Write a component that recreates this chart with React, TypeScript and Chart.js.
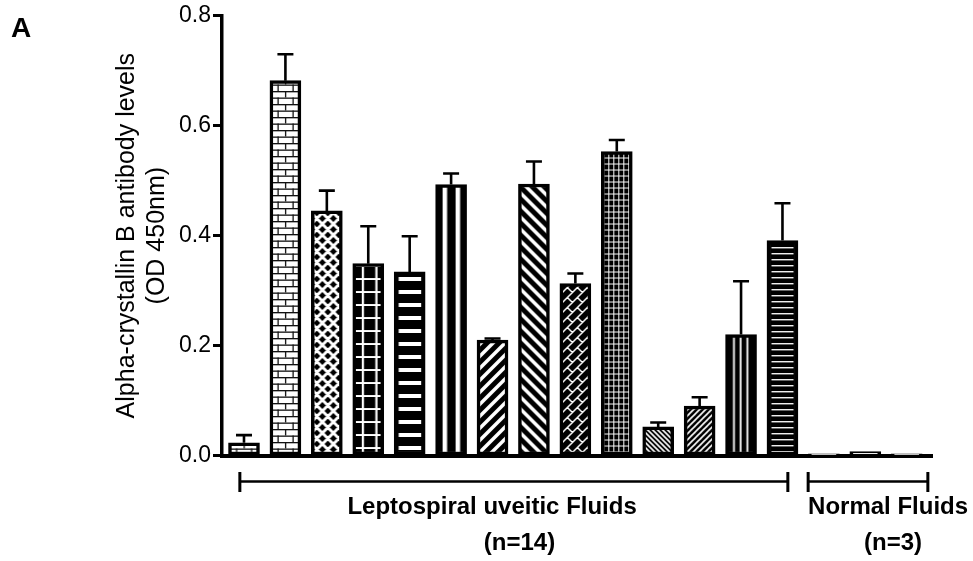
import { useEffect, useRef } from 'react';
import { Chart, registerables } from 'chart.js';
Chart.register(...registerables);

// ---------- data ----------
const categories = [
  'LU1', 'LU2', 'LU3', 'LU4', 'LU5', 'LU6', 'LU7', 'LU8', 'LU9', 'LU10', 'LU11', 'LU12', 'LU13', 'LU14',
  'N1', 'N2', 'N3',
];
const values = [0.023, 0.682, 0.445, 0.349, 0.334, 0.493, 0.21, 0.494, 0.313, 0.553, 0.052, 0.09, 0.22, 0.391, 0.003, 0.007, 0.003];
const errors = [0.014, 0.048, 0.037, 0.068, 0.065, 0.02, 0.003, 0.041, 0.018, 0.021, 0.008, 0.016, 0.097, 0.068, 0, 0, 0];
const yTicks = [0, 0.2, 0.4, 0.6, 0.8];
const yTitle = ['Alpha-crystallin B antibody levels', '(OD 450nm)'];
const groupNames = ['Leptospiral uveitic Fluids', 'Normal Fluids'];
const groupCounts = ['(n=14)', '(n=3)'];
const panelLabel = 'A';

// ---------- layout / style (category-unit positions) ----------
const GROUPS = [
  { from: -0.1, to: 13.13, nameAt: 5.99, countAt: 6.65 },
  { from: 13.62, to: 16.51, nameAt: 15.55, countAt: 15.67 },
];
const FONT = '"Liberation Sans", Arial, Helvetica, sans-serif';

type Draw = (g: CanvasRenderingContext2D, w: number, h: number) => void;

function makePattern(ctx: CanvasRenderingContext2D, w: number, h: number, bg: string, draw: Draw) {
  const c = document.createElement('canvas');
  c.width = w;
  c.height = h;
  const g = c.getContext('2d')!;
  g.fillStyle = bg;
  g.fillRect(0, 0, w, h);
  g.fillStyle = '#fff';
  g.strokeStyle = '#fff';
  draw(g, w, h);
  return ctx.createPattern(c, 'repeat')!;
}

function diag(dir: '/' | '\\', lw: number): Draw {
  return (g, w) => {
    g.lineWidth = lw;
    g.beginPath();
    for (let k = -2; k <= 2; k++) {
      if (dir === '\\') {
        g.moveTo(k * w - w, -w);
        g.lineTo(k * w + 2 * w, 2 * w);
      } else {
        g.moveTo(k * w - w, 2 * w);
        g.lineTo(k * w + 2 * w, -w);
      }
    }
    g.stroke();
  };
}

function buildPatterns(ctx: CanvasRenderingContext2D) {
  const brick: Draw = (g, w) => {
    g.fillStyle = '#111';
    g.fillRect(0, 0, w, 1.3);
    g.fillRect(0, 6.5, w, 1.3);
    g.fillRect(0, 0, 1.3, 6.5);
    g.fillRect(7.5, 6.5, 1.3, 6.5);
  };
  const lattice: Draw = (g, w) => {
    g.lineWidth = 3;
    g.beginPath();
    for (let i = -1; i <= 1; i++) {
      for (let j = -1; j <= 1; j++) {
        g.moveTo(i * w, j * w);
        g.lineTo(i * w + w, j * w + w);
        g.moveTo(i * w + w, j * w);
        g.lineTo(i * w, j * w + w);
      }
    }
    g.stroke();
  };
  const ladder: Draw = (g, w, h) => {
    g.fillRect(9, 0, 2.2, h);
    g.fillRect(22.5, 0, 2.2, h);
    g.fillRect(0, 5, w, 2);
  };
  const bands: Draw = (g) => {
    g.fillRect(4.5, 4, 22.5, 4);
  };
  const twoStripes: Draw = (g, w, h) => {
    g.fillRect(7, 0, 4.5, h);
    g.fillRect(20, 0, 4.5, h);
  };
  const weave: Draw = (g, w) => {
    g.lineWidth = 1.5;
    g.beginPath();
    for (let i = -2; i <= 2; i++) {
      for (let j = -2; j <= 2; j++) {
        const ox = i * w;
        const oy = j * w;
        g.moveTo(ox, oy + w);
        g.lineTo(ox + w, oy);
        g.moveTo(ox + 7.5, oy + 2.5);
        g.lineTo(ox + 12.5, oy + 7.5);
      }
    }
    g.stroke();
  };
  const fineGrid: Draw = (g, w, h) => {
    g.fillRect(2, 0, 1, h);
    g.fillRect(0, 2.5, w, 1);
  };
  const threeLines: Draw = (g, w, h) => {
    g.fillRect(7.5, 0, 1.8, h);
    g.fillRect(14.2, 0, 1.8, h);
    g.fillRect(20.9, 0, 1.8, h);
  };
  const thinBands: Draw = (g) => {
    g.fillRect(4.5, 2, 22, 1.4);
  };
  return [
    makePattern(ctx, 15, 13, '#fff', brick),
    makePattern(ctx, 15, 13, '#fff', brick),
    makePattern(ctx, 11, 11, '#000', lattice),
    makePattern(ctx, 31, 13, '#000', ladder),
    makePattern(ctx, 31, 13, '#000', bands),
    makePattern(ctx, 31, 4, '#000', twoStripes),
    makePattern(ctx, 12, 12, '#000', diag('/', 3.5)),
    makePattern(ctx, 12, 12, '#000', diag('\\', 3.5)),
    makePattern(ctx, 10, 10, '#000', weave),
    makePattern(ctx, 5, 6, '#000', fineGrid),
    makePattern(ctx, 5, 5, '#000', diag('\\', 1.6)),
    makePattern(ctx, 6, 6, '#000', diag('/', 1.6)),
    makePattern(ctx, 31, 4, '#000', threeLines),
    makePattern(ctx, 31, 6, '#000', thinBands),
    '#fff',
    '#fff',
    '#fff',
  ] as (CanvasPattern | string)[];
}

export default function App() {
  const ref = useRef<HTMLCanvasElement>(null);

  useEffect(() => {
    const canvas = ref.current!;
    const ctx = canvas.getContext('2d')!;
    const patterns = buildPatterns(ctx);

    const patternAnchor = {
      id: 'patternAnchor',
      beforeDatasetsDraw(chart: any) {
        const meta = chart.getDatasetMeta(0);
        meta.data.forEach((el: any, i: number) => {
          const p = patterns[i] as any;
          if (p && typeof p !== 'string' && p.setTransform) {
            const left = el.x - el.width / 2;
            p.setTransform(new DOMMatrix([1, 0, 0, 1, left, el.base]));
          }
        });
      },
    };

    const errorBars = {
      id: 'errorBars',
      afterDatasetsDraw(chart: any) {
        const c = chart.ctx;
        const y = chart.scales.y;
        const meta = chart.getDatasetMeta(0);
        c.save();
        c.strokeStyle = '#000';
        c.lineWidth = 2.6;
        c.lineCap = 'butt';
        meta.data.forEach((el: any, i: number) => {
          const e = errors[i];
          if (!e) return;
          const yb = y.getPixelForValue(values[i]);
          const yt = y.getPixelForValue(values[i] + e);
          c.beginPath();
          c.moveTo(el.x, yb);
          c.lineTo(el.x, yt);
          c.moveTo(el.x - 8, yt);
          c.lineTo(el.x + 8, yt);
          c.stroke();
        });
        c.restore();
      },
    };

    const annotations = {
      id: 'annotations',
      afterDraw(chart: any) {
        const c = chart.ctx;
        const x = chart.scales.x;
        c.save();
        c.strokeStyle = '#000';
        c.fillStyle = '#000';
        GROUPS.forEach((g, i) => {
          const x1 = x.getPixelForValue(g.from);
          const x2 = x.getPixelForValue(g.to);
          c.lineWidth = 2.5;
          c.beginPath();
          c.moveTo(x1, 481.5);
          c.lineTo(x2, 481.5);
          c.stroke();
          c.lineWidth = 3;
          c.beginPath();
          c.moveTo(x1, 472);
          c.lineTo(x1, 492);
          c.moveTo(x2, 472);
          c.lineTo(x2, 492);
          c.stroke();
          c.font = `bold 24px ${FONT}`;
          c.textAlign = 'center';
          c.textBaseline = 'alphabetic';
          c.fillText(groupNames[i], x.getPixelForValue(g.nameAt), 514);
          c.fillText(groupCounts[i], x.getPixelForValue(g.countAt), 550);
        });
        c.font = `bold 28px ${FONT}`;
        c.textAlign = 'left';
        c.fillText(panelLabel, 11, 37);
        c.restore();
      },
    };

    const chart = new Chart(canvas, {
      type: 'bar',
      data: {
        labels: categories,
        datasets: [
          {
            data: categories.map((_, i) => ({ x: i, y: values[i] })) as any,
            backgroundColor: patterns as any,
            borderColor: '#000',
            borderWidth: 3.5,
            borderSkipped: false,
            barThickness: 31,
          },
        ],
      },
      options: {
        responsive: false,
        animation: false,
        events: [],
        devicePixelRatio: 1,
        layout: { padding: { left: 100, top: 15, right: 41, bottom: 0 } },
        plugins: { legend: { display: false }, tooltip: { enabled: false }, title: { display: false } },
        scales: {
          x: {
            type: 'linear',
            min: -0.531,
            max: 16.61,
            offset: false,
            ticks: { display: false },
            grid: { display: false },
            border: { display: true, color: '#000', width: 4 },
            afterFit: (s: any) => {
              s.height = 105.5;
            },
          },
          y: {
            min: 0,
            max: 0.8,
            afterBuildTicks: (s: any) => {
              s.ticks = yTicks.map((v) => ({ value: v }));
            },
            ticks: {
              color: '#000',
              padding: 2,
              font: { size: 23, family: FONT },
              callback: (v: any) => Number(v).toFixed(1),
            },
            grid: { display: true, drawOnChartArea: false, drawTicks: true, tickLength: 9, tickWidth: 3, tickColor: '#000' },
            border: { display: true, color: '#000', width: 3.5 },
            title: {
              display: true,
              text: yTitle,
              color: '#000',
              font: { size: 25, family: FONT, lineHeight: 1.2 },
              padding: { top: 12, bottom: 0 },
            },
            afterFit: (s: any) => {
              s.width = 122;
            },
          },
        },
      },
      plugins: [patternAnchor, errorBars, annotations],
    });
    return () => chart.destroy();
  }, []);

  return (
    <div style={{ position: 'absolute', left: 0, top: 0, width: 973, height: 561, background: '#fff' }}>
      <canvas ref={ref} width={973} height={561} />
    </div>
  );
}
